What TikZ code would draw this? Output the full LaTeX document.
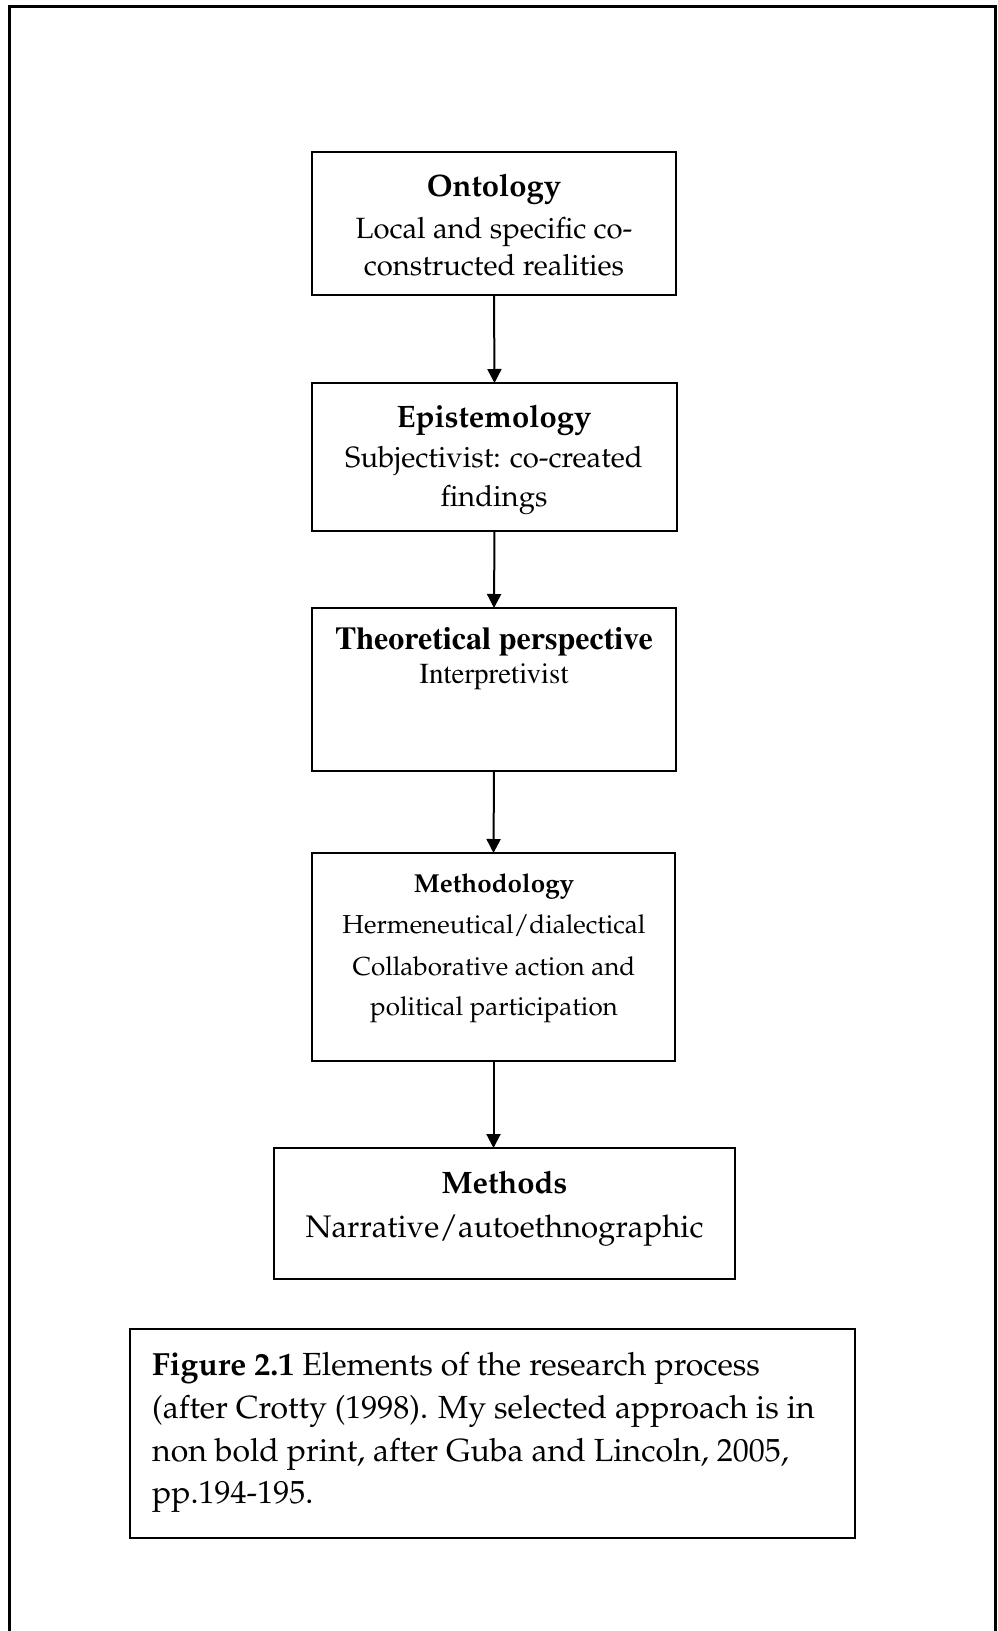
\documentclass[tikz,border=0pt]{standalone}
\usepackage[T1]{fontenc}
\renewcommand{\rmdefault}{ppl}
\usetikzlibrary{arrows.meta}
\newcommand{\fs}[1]{\fontsize{#1}{#1}\selectfont}
\newcommand{\timesfont}{\fontfamily{ptm}\selectfont}
\begin{document}
\begin{tikzpicture}[x=1pt,y=-1pt,
  box/.style={draw,line width=1.9pt,rectangle,inner sep=0pt,outer sep=0pt},
  txt/.style={anchor=base,inner sep=0pt},
  captxt/.style={anchor=base west,inner sep=0pt,font=\fs{32}},
  link/.style={line width=2pt,-{Triangle[width=14pt,length=14pt]}}]
\useasboundingbox (0,0) rectangle (998,1631);

% page frame, open at the bottom
\draw[line width=2.4pt] (9.5,1631) -- (9.5,6.5) -- (995.5,6.5) -- (995.5,1631);

% boxes
\node[box,minimum width=364pt,minimum height=143pt] (onto) at (494,223.5) {};
\node[box,minimum width=365pt,minimum height=148pt] (epis) at (494.5,457) {};
\node[box,minimum width=364pt,minimum height=163pt] (theo) at (494,689.5) {};
\node[box,minimum width=363pt,minimum height=208pt] (meth) at (493.5,957) {};
\node[box,minimum width=461pt,minimum height=131pt] (mths) at (504.5,1213.5) {};
\node[box,minimum width=725pt,minimum height=209pt] (capt) at (492.5,1433.5) {};

% texts
\node[txt,font=\fs{31}\bfseries] (ontoH) at (494,196) {Ontology};
\node[txt,font=\fs{29.3}] (ontoA) at (494,238) {Local and specific co-};
\node[txt,font=\fs{29.3}] (ontoB) at (494,275) {constructed realities};

\node[txt,font=\fs{31}\bfseries] (episH) at (494,427) {Epistemology};
\node[txt,font=\fs{29.3}] (episA) at (494,467) {Subjectivist: co-created};
\node[txt,font=\fs{29.3}] (episB) at (494,506) {findings};

\node[txt,font=\timesfont\fs{32}\bfseries] (theoH) at (494,649) {Theoretical perspective};
\node[txt,font=\timesfont\fs{29}] (theoA) at (494,683) {Interpretivist};

\node[txt,font=\fs{26}\bfseries] (methH) at (494,892) {Methodology};
\node[txt,font=\fs{26}] (methA) at (494,933) {Hermeneutical/dialectical};
\node[txt,font=\fs{26}] (methB) at (494,975) {Collaborative action and};
\node[txt,font=\fs{26}] (methC) at (494,1015) {political participation};

\node[txt,font=\fs{31}\bfseries] (mthsH) at (504.5,1193) {Methods};
\node[txt,font=\fs{31.2}] (mthsA) at (504.5,1237) {Narrative/autoethnographic};

\node[captxt] (capA) at (152,1375) {\textbf{Figure 2.1} Elements of the research process};
\node[captxt] (capB) at (152,1418) {(after Crotty (1998). My selected approach is in};
\node[captxt] (capC) at (152,1461) {non bold print, after Guba and Lincoln, 2005,};
\node[captxt] (capD) at (152,1503) {pp.194-195.};

% connectors
\draw[link] (onto.south) -- (epis.north);
\draw[link] (epis.south) -- (theo.north);
\draw[link] (theo.south) -- (meth.north);
\draw[link] (meth.south) -- (meth.south |- mths.north);
\end{tikzpicture}
\end{document}
